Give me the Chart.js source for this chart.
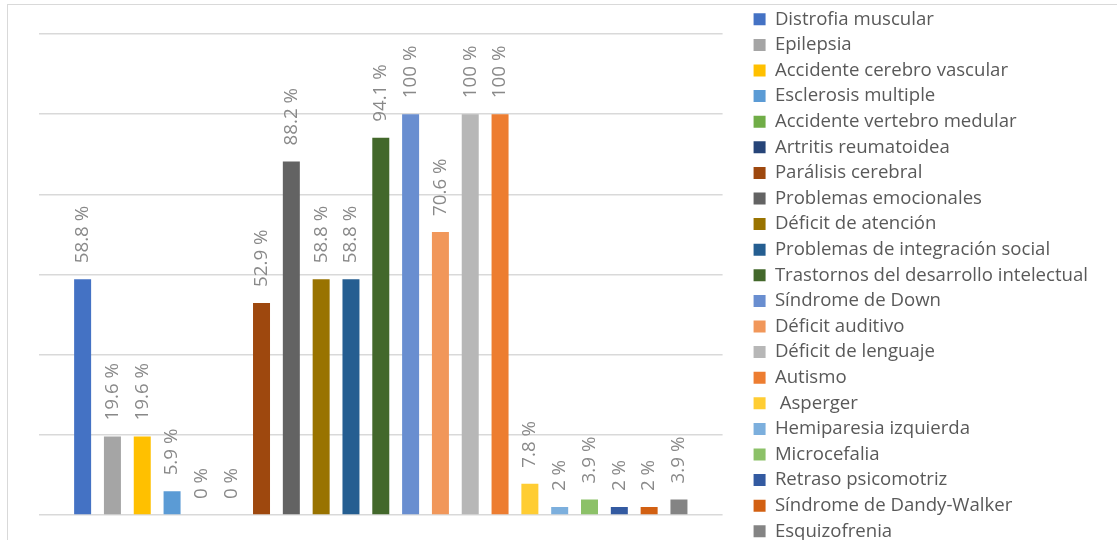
<!DOCTYPE html>
<html>
<head>
<meta charset="utf-8">
<script src="https://cdn.jsdelivr.net/npm/chart.js@4"></script>
<style>
  html, body { margin: 0; padding: 0; background: #fff; overflow: hidden; }
  .frame { position: absolute; left: 7px; top: 4px; width: 1200px; height: 700px; border: 1px solid #d9d9d9; }
  #chart { position: absolute; left: 0; top: 0; }
</style>
</head>
<body>
<div class="frame"></div>
<canvas id="chart" width="1117" height="560"></canvas>
<script>
// data
const categories = [
  'Distrofia muscular', 'Epilepsia', 'Accidente cerebro vascular', 'Esclerosis multiple',
  'Accidente vertebro medular', 'Artritis reumatoidea', 'Parálisis cerebral',
  'Problemas emocionales', 'Déficit de atención', 'Problemas de integración social',
  'Trastornos del desarrollo intelectual', 'Síndrome de Down', 'Déficit auditivo',
  'Déficit de lenguaje', 'Autismo', ' Asperger', 'Hemiparesia izquierda', 'Microcefalia',
  'Retraso psicomotriz', 'Síndrome de Dandy-Walker', 'Esquizofrenia'
];
const percents = [58.8, 19.6, 19.6, 5.9, 0, 0, 52.9, 88.2, 58.8, 58.8, 94.1, 100, 70.6, 100, 100, 7.8, 2, 3.9, 2, 2, 3.9];
const colors = [
  '#4472C4', '#A5A5A5', '#FFC000', '#5B9BD5', '#70AD47', '#264478', '#9E480E',
  '#636363', '#997300', '#255E91', '#43682B', '#698ED0', '#F1975A', '#B7B7B7',
  '#ED7D31', '#FFCD33', '#7CAFDD', '#8CC168', '#335AA1', '#D26012', '#848484'
];

const FONT = 'Open Sans';

// rotated value labels above each bar
const valueLabels = {
  id: 'valueLabels',
  afterDatasetsDraw(chart) {
    const ctx = chart.ctx;
    ctx.save();
    ctx.font = `18.8px "${FONT}"`;
    ctx.fillStyle = '#898989';
    ctx.textAlign = 'left';
    ctx.textBaseline = 'middle';
    chart.data.datasets.forEach((ds, i) => {
      chart.getDatasetMeta(i).data.forEach((bar, j) => {
        ctx.save();
        ctx.translate(bar.x, bar.y - 16);
        ctx.rotate(-Math.PI / 2);
        ctx.fillText(ds.data[j] + ' %', 0, 0);
        ctx.restore();
      });
    });
    ctx.restore();
  }
};

const datasets = categories.map((name, i) => ({
  label: name,
  data: [percents[i]],
  backgroundColor: colors[i],
  categoryPercentage: 0.916,
  barPercentage: 0.57,
}));

const gridColor = (c) =>
  c.tick && Math.abs(c.tick.value % 20) < 0.01 && c.tick.value >= 0 ? '#d9d9d9' : 'rgba(0,0,0,0)';

new Chart(document.getElementById('chart'), {
  type: 'bar',
  data: { labels: [''], datasets },
  plugins: [valueLabels],
  options: {
    responsive: false,
    animation: false,
    layout: { padding: { top: 3, left: 39, right: 19, bottom: 0 } },
    plugins: {
      tooltip: { enabled: false },
      legend: {
        position: 'right',
        align: 'start',
        maxWidth: 500,
        labels: {
          boxWidth: 12,
          boxHeight: 12,
          padding: 7,
          color: '#595959',
          font: { family: FONT, size: 18.6 },
        },
      },
    },
    scales: {
      x: { display: false },
      y: {
        min: -11.22,
        max: 127.73,
        ticks: { display: false, stepSize: 20 },
        grid: { drawTicks: false, color: gridColor, lineWidth: 1.5 },
        border: { display: false },
        afterFit: (s) => { s.width = 0; },
      },
      y2: {
        position: 'right',
        display: true,
        ticks: { display: false },
        grid: { display: false, drawTicks: false },
        border: { display: false },
        afterFit: (s) => { s.width = 24; },
      },
    },
  },
});
</script>
</body>
</html>
